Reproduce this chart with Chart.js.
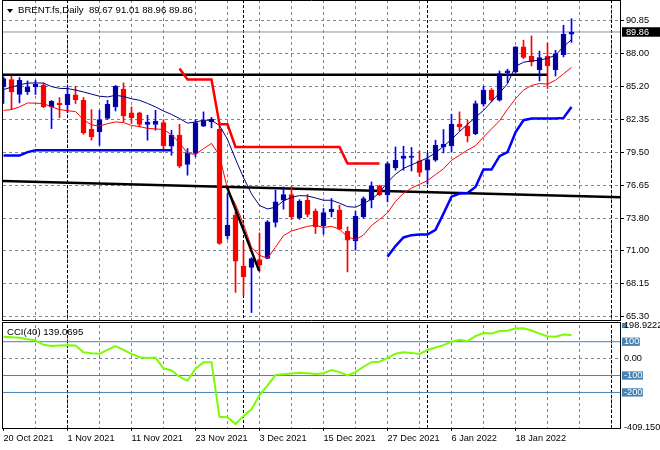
<!DOCTYPE html>
<html><head><meta charset="utf-8">
<script src="https://cdn.jsdelivr.net/npm/chart.js@4.4.1/dist/chart.umd.min.js"></script>
<style>
html,body{margin:0;padding:0;background:#fff;}
#wrap{position:relative;width:660px;height:450px;overflow:hidden;background:#fff;}
canvas{position:absolute;left:0;}
#c1{top:0;} #c2{top:321px;}
.lbl{position:absolute;font-family:'Liberation Sans',Arial,sans-serif;font-size:9.6px;color:#000;white-space:pre;line-height:12px;}
#tri{position:absolute;left:7px;top:9px;width:0;height:0;border-left:3px solid transparent;border-right:3px solid transparent;border-top:4px solid #000;}
</style></head><body>
<div id="wrap">
<canvas id="c1" width="660" height="322"></canvas>
<canvas id="c2" width="660" height="129"></canvas>
<div id="tri"></div>
<div class="lbl" id="hdr" style="left:18px;top:4px;"></div>
<div class="lbl" id="cciLbl" style="left:7px;top:326px;"></div>
</div>
<script>
const symbol = 'BRENT.fs,Daily';
const dateLabels = ['20 Oct 2021','1 Nov 2021','11 Nov 2021','23 Nov 2021','3 Dec 2021','15 Dec 2021','27 Dec 2021','6 Jan 2022','18 Jan 2022'];
const dateLabelBars = [0,8,16,24,32,40,48,56,64];
const separatorBars = [8,30,53,76];
const priceTicks = [65.30,68.15,71.00,73.80,76.65,79.50,82.35,85.20,88.00,90.85];
const priceTickLabels = ['65.30','68.15','71.00','73.80','76.65','79.50','82.35','85.20','88.00','90.85'];
const bidPrice = 89.86;
const cciTicks = [-409.15,-200,-100,0,100,198.9222];
const cciTickLabels = ['-409.150','-200','-100','0.00','100','198.9222'];
const cciLevels = [100,-100,-200];
const cciPeriod = 40;

const openP = [85.15,85.76,84.47,84.69,85.12,85.27,83.40,83.74,83.60,84.43,
 83.97,81.47,81.24,82.40,83.40,84.92,82.88,82.88,81.88,81.88,
 82.05,80.01,80.96,78.43,79.38,81.73,82.10,81.47,72.28,74.06,
 69.66,69.55,70.24,70.33,73.43,75.35,75.84,73.83,75.35,74.41,
 73.14,74.35,74.50,72.68,71.85,73.91,75.41,76.59,75.84,78.14,
 78.95,79.04,78.74,77.94,78.80,79.95,80.03,81.91,81.73,81.10,
 83.63,84.84,83.97,86.33,86.41,88.57,87.77,86.62,87.77,86.62,
 87.91,89.67];
const highP = [86.00,86.07,85.93,85.64,85.70,85.47,83.95,84.20,85.18,85.18,
 84.21,83.17,83.11,83.97,85.25,85.47,83.40,82.95,82.68,83.11,
 82.30,81.39,81.90,79.81,82.31,82.97,82.50,81.82,75.93,74.35,
 71.76,70.40,72.53,73.60,76.22,76.50,76.56,75.40,75.84,74.60,
 74.64,75.50,74.92,73.05,74.40,75.64,76.93,76.65,78.66,79.95,
 80.01,79.90,79.60,79.43,80.53,81.45,82.77,82.97,82.25,83.91,
 85.18,84.98,86.50,86.65,88.60,89.15,89.52,88.22,88.91,88.28,
 90.44,91.01];
const lowP = [83.70,83.17,83.74,84.47,84.47,83.34,81.53,82.48,82.91,83.69,
 81.04,80.53,80.09,82.31,83.05,82.10,81.97,81.67,80.53,81.39,
 79.72,79.23,78.17,77.51,79.09,81.70,81.59,71.55,71.99,67.40,
 67.16,65.67,69.17,70.30,73.05,74.58,73.69,73.70,73.91,72.48,
 72.42,73.91,72.80,69.17,71.04,73.80,74.69,75.75,75.21,77.94,
 77.94,77.88,77.42,76.73,78.70,79.43,79.52,81.33,80.38,81.00,
 83.46,83.83,83.90,85.47,86.33,87.57,86.93,85.64,84.98,86.07,
 87.71,88.96];
const closeP = [85.85,84.69,85.70,85.12,85.35,83.40,83.89,83.60,84.49,84.03,
 81.16,80.81,82.31,83.63,85.18,82.62,82.48,81.88,82.10,82.16,
 80.05,80.96,78.28,79.43,82.05,82.19,82.34,71.62,73.20,70.10,
 68.74,70.33,69.75,73.48,75.21,75.84,73.91,75.27,74.12,73.05,
 74.29,74.58,72.85,71.90,73.97,75.50,76.59,75.84,78.52,78.80,
 79.15,79.16,77.74,78.86,80.09,80.18,81.91,81.67,80.90,83.69,
 84.84,83.97,86.28,86.50,88.57,87.66,87.28,87.66,86.93,88.00,
 89.66,89.86];
const fastMA = [84.9,85.1,85.3,85.45,85.47,85.45,85.15,85.0,84.98,84.85,
 84.69,84.5,84.32,84.26,84.4,84.3,84.1,83.97,83.7,83.4,
 83.05,82.75,82.4,82.0,82.1,82.25,82.25,81.8,80.6,78.9,
 77.3,75.9,74.9,74.6,74.75,75.3,75.6,75.75,75.72,75.55,
 75.35,75.35,75.1,74.8,74.75,75.07,75.43,76.0,76.9,77.6,
 78.1,78.4,78.7,79.0,79.45,80.0,80.6,81.27,81.9,82.5,
 83.1,83.85,84.6,85.4,86.9,87.25,87.36,87.42,87.6,87.85,
 88.6,89.2];
const slowMA = [83.1,83.17,83.4,83.74,83.72,83.69,83.4,83.17,83.07,83.0,
 82.3,81.85,81.75,81.95,82.1,82.05,81.8,81.7,81.55,81.5,
 81.45,81.0,80.3,79.4,79.3,79.8,80.25,79.2,76.3,75.0,
 73.3,71.3,70.6,70.35,71.3,72.3,72.7,72.9,73.1,73.2,
 73.0,73.1,72.85,72.2,71.95,72.35,73.17,73.7,74.26,75.25,
 75.95,76.4,76.72,77.05,77.56,78.06,78.8,79.23,79.68,80.05,
 80.8,81.5,82.2,83.2,84.1,84.85,85.25,85.42,85.36,85.7,
 86.25,86.8];
const stopUp = [79.2,79.2,79.2,79.5,79.66,79.66,79.66,79.66,79.66,79.66,
 79.66,79.66,79.66,79.66,79.66,79.66,79.66,79.66,79.66,79.66,
 79.66,79.66,null,null,null,null,null,null,null,null,
 null,null,null,null,null,null,null,null,null,null,
 null,null,null,null,null,null,null,null,70.47,71.4,
 72.14,72.34,72.39,72.39,72.8,74.2,75.66,75.93,75.97,76.5,
 78.0,78.0,79.15,79.5,81.2,82.25,82.4,82.4,82.4,82.4,
 82.45,83.4];
const stopDown = [null,null,null,null,null,null,null,null,null,null,
 null,null,null,null,null,null,null,null,null,null,
 null,null,86.71,85.76,85.76,85.76,85.76,81.9,81.9,79.95,
 79.95,79.95,79.95,79.95,79.95,79.95,79.95,79.95,79.95,79.95,
 79.95,79.95,79.95,78.52,78.52,78.52,78.52,78.52,null,null,
 null,null,null,null,null,null,null,null,null,null,
 null,null,null,null,null,null,null,null,null,null,
 null,null];
const cciValues = [130,127,124,115,108,82,75,78,79,78,
 38,32,29,52,74,52,28,8,4,6,
 -57,-70,-107,-131,-60,-22,-22,-344,-347,-387,
 -339,-300,-215,-160,-96,-92,-88,-83,-86,-91,
 -86,-67,-80,-100,-80,-48,-21,-18,3,29,
 38,34,28,51,66,80,100,112,103,133,
 151,148,163,165,178,179,166,148,132,130,
 142,139.0695];
// hand-drawn objects (bar index, price)
const resistanceLine = [{x:-0.0625,y:86.17},{x:68,y:86.17}];
const longTrend = [{x:-0.0625,y:77.0},{x:77.1875,y:75.6}];
const dropTrend = [{x:27.9,y:76.56},{x:31.95,y:69.26}];

const gridColor = '#778899';
const clear = 'rgba(0,0,0,0)';
const FONT = "'Liberation Sans', Arial, sans-serif";
const xMin = -0.0625, xMax = 77.1875;
const gridBars = [];
for (let v = 0; v <= 76; v += 4) gridBars.push(v);

const n = openP.length;
const idx = openP.map((_, i) => i);
const bull = i => closeP[i] >= openP[i];
const last = n - 1;
document.getElementById('hdr').textContent = symbol + '  ' + [openP[last], highP[last], lowP[last], closeP[last]].map(v => v.toFixed(2)).join(' ');
document.getElementById('cciLbl').textContent = 'CCI(' + cciPeriod + ') ' + cciValues[last].toFixed(4);

const series = arr => arr.map((v, i) => ({x: i, y: v}));
const lineDS = (data, color, width, order, extra) => Object.assign({type: 'line', data, borderColor: color, borderWidth: width, pointRadius: 0, tension: 0, fill: false, spanGaps: false, order}, extra || {});

function separators(chart) {
  const {ctx, chartArea: a, scales: {x}} = chart;
  ctx.save();
  ctx.strokeStyle = '#000'; ctx.lineWidth = 1; ctx.setLineDash([3, 2]);
  ctx.beginPath();
  separatorBars.forEach(b => { const px = Math.floor(x.getPixelForValue(b)) + 0.5; ctx.moveTo(px, a.top); ctx.lineTo(px, a.bottom); });
  ctx.stroke();
  ctx.restore();
}

const plugin1 = {
  id: 'p1',
  beforeDatasetsDraw(chart) { separators(chart); },
  afterDraw(chart) {
    const {ctx, chartArea: a} = chart;
    ctx.save(); ctx.strokeStyle = '#000'; ctx.lineWidth = 1; ctx.setLineDash([]);
    ctx.beginPath();
    ctx.moveTo(a.left - 1, 0.5); ctx.lineTo(a.right, 0.5);
    ctx.moveTo(a.left - 0.5, 0); ctx.lineTo(a.left - 0.5, a.bottom + 0.5);
    ctx.moveTo(a.right - 0.5, 0); ctx.lineTo(a.right - 0.5, a.bottom + 1);
    ctx.moveTo(a.left - 1, a.bottom + 0.5); ctx.lineTo(a.right, a.bottom + 0.5);
    ctx.stroke(); ctx.restore();
  }
};
const plugin2 = {
  id: 'p2',
  beforeDraw(chart) {
    const {ctx, chartArea: a} = chart;
    ctx.save(); ctx.fillStyle = '#4682b4'; ctx.fillRect(a.right + 1, 2, 5, 5); ctx.restore();
  },
  beforeDatasetsDraw(chart) { separators(chart); },
  afterDraw(chart) {
    const {ctx, chartArea: a} = chart;
    const b = Math.round(a.bottom) + 0.5;
    ctx.save(); ctx.strokeStyle = '#000'; ctx.lineWidth = 1; ctx.setLineDash([]);
    ctx.beginPath();
    ctx.moveTo(a.left - 1, 1.5); ctx.lineTo(a.right, 1.5);
    ctx.moveTo(a.left - 0.5, 1.5); ctx.lineTo(a.left - 0.5, b);
    ctx.moveTo(a.right - 0.5, 1.5); ctx.lineTo(a.right - 0.5, b);
    ctx.moveTo(a.left - 1, b); ctx.lineTo(a.right, b);
    ctx.stroke(); ctx.restore();
  }
};

const xBase = (height, showLabels) => ({
  type: 'linear', min: xMin, max: xMax, offset: false, bounds: 'data',
  grid: {
    offset: false,
    color: c => (c.tick && c.tick.value === 0) ? clear : gridColor,
    drawTicks: showLabels, tickLength: 3,
    tickColor: c => (c.tick && dateLabelBars.includes(c.tick.value)) ? '#000' : clear
  },
  border: {display: false, dash: [3, 3]},
  ticks: {
    display: showLabels, autoSkip: false, maxRotation: 0, minRotation: 0, align: 'start', padding: 2.5,
    font: {family: FONT, size: 9.2}, color: '#000',
    callback: v => { const k = dateLabelBars.indexOf(v); return k >= 0 ? dateLabels[k] : ''; }
  },
  afterBuildTicks: s => { s.ticks = gridBars.map(v => ({value: v})); },
  afterFit: s => { s.height = height; s.paddingLeft = 0; s.paddingRight = 0; }
});

Chart.defaults.font.family = FONT;

new Chart(document.getElementById('c1'), {
  type: 'bar',
  data: {
    datasets: [
      lineDS(dropTrend, '#000', 2.5, 0),
      lineDS(series(stopUp), '#0000ff', 2.5, 1),
      lineDS(series(stopDown), '#ff0000', 2.5, 1),
      lineDS(series(fastMA), '#000080', 1, 2),
      lineDS(series(slowMA), '#ff0000', 1, 3),
      {type: 'bar', data: idx.map(i => ({x: i, y: [openP[i], closeP[i]]})), grouped: false, barThickness: 5,
        backgroundColor: idx.map(i => bull(i) ? '#000099' : '#ff0000'),
        borderColor: idx.map(i => bull(i) ? '#0000dd' : '#ff0000'), borderWidth: 1, borderSkipped: false, order: 5},
      {type: 'bar', data: idx.map(i => ({x: i, y: [lowP[i], highP[i]]})), grouped: false, barThickness: 1,
        backgroundColor: idx.map(i => bull(i) ? '#0000ff' : '#ff0000'), borderWidth: 0, order: 6},
      lineDS(resistanceLine, '#000', 2.5, 7),
      lineDS(longTrend, '#000', 2.5, 7),
      lineDS([{x: xMin, y: bidPrice}, {x: xMax, y: bidPrice}], '#8391a0', 1, 9)
    ]
  },
  options: {
    responsive: false, animation: false, events: [],
    layout: {padding: {left: 3, top: 0, right: 0, bottom: 0}},
    plugins: {legend: {display: false}, tooltip: {enabled: false}, title: {display: false}},
    scales: {
      x: xBase(2, false),
      y: {
        type: 'linear', position: 'right', min: 65.024, max: 92.618, bounds: 'data', beginAtZero: false,
        grid: {
          color: c => (c.tick && c.tick.value === bidPrice) ? clear : gridColor,
          drawTicks: true, tickLength: 3,
          tickColor: c => (c.tick && c.tick.value === bidPrice) ? clear : '#000'
        },
        border: {display: false, dash: [3, 3]},
        ticks: {
          autoSkip: false, padding: 2, font: {family: FONT, size: 9.2, lineHeight: 1.03},
          color: c => (c.tick && c.tick.value === bidPrice) ? '#fff' : '#000',
          showLabelBackdrop: true,
          backdropColor: c => (c.tick && c.tick.value === bidPrice) ? '#000' : clear,
          backdropPadding: {top: 0, bottom: 0, left: 4, right: 16},
          callback: v => v === bidPrice ? bidPrice.toFixed(2) : priceTickLabels[priceTicks.indexOf(v)]
        },
        afterBuildTicks: s => { s.ticks = priceTicks.concat([bidPrice]).sort((a, b) => a - b).map(v => ({value: v})); },
        afterFit: s => { s.width = 39; s.paddingTop = 0; s.paddingBottom = 0; }
      }
    }
  },
  plugins: [plugin1]
});

new Chart(document.getElementById('c2'), {
  type: 'line',
  data: {
    datasets: [
      lineDS(series(cciValues), '#7cfc00', 2, 0),
      ...cciLevels.map(l => lineDS([{x: xMin, y: l}, {x: xMax, y: l}], '#4682b4', 1, 5))
    ]
  },
  options: {
    responsive: false, animation: false, events: [],
    layout: {padding: {left: 3, top: 4, right: 0, bottom: 0}},
    plugins: {legend: {display: false}, tooltip: {enabled: false}, title: {display: false}},
    scales: {
      x: xBase(22.2, true),
      y: {
        type: 'linear', position: 'right', min: -409.15, max: 198.9222, bounds: 'data', beginAtZero: false,
        grid: {
          color: c => (c.tick && c.tick.value === 0) ? gridColor : clear,
          drawTicks: true, tickLength: 1, tickColor: clear
        },
        border: {display: false, dash: [3, 3]},
        ticks: {
          autoSkip: false, padding: 2, font: {family: FONT, size: 9.2, lineHeight: 0.9},
          color: c => (c.tick && cciLevels.includes(c.tick.value)) ? '#fff' : '#000',
          showLabelBackdrop: true,
          backdropColor: c => (c.tick && cciLevels.includes(c.tick.value)) ? '#4682b4' : clear,
          backdropPadding: {top: 0, bottom: 0, left: 2, right: 0.5},
          callback: v => cciTickLabels[cciTicks.indexOf(v)]
        },
        afterBuildTicks: s => { s.ticks = cciTicks.map(v => ({value: v})); },
        afterFit: s => { s.width = 39; s.paddingTop = 0; s.paddingBottom = 0; }
      }
    }
  },
  plugins: [plugin2]
});
</script>
</body></html>
